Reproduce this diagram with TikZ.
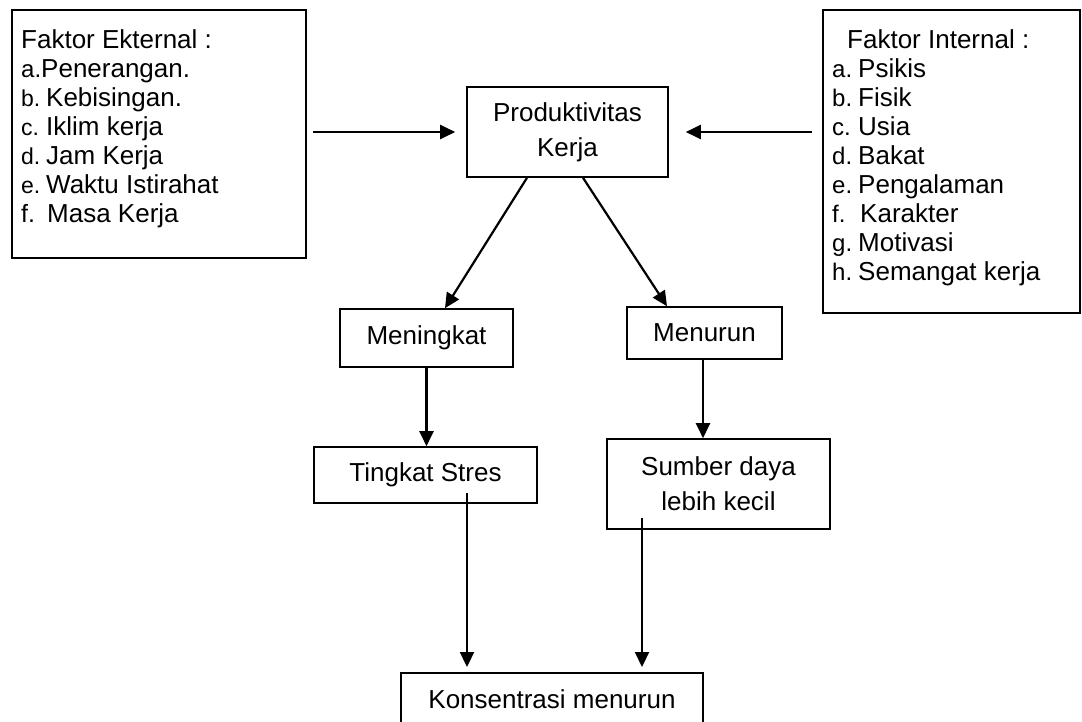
\documentclass[tikz,border=0pt]{standalone}
\usepackage{fontspec}
\setmainfont{Liberation Sans}
\usetikzlibrary{arrows.meta,calc}
\newcommand\itemlab[3][25pt]{\makebox[#1][l]{\fontsize{#2}{29}\selectfont #3}}
\begin{document}
\begin{tikzpicture}[x=1pt,y=-1pt,
  box/.style={draw, line width=1.6pt, inner sep=0pt, font=\fontsize{26}{35}\selectfont, align=center},
  txt/.style={anchor=base west, inner sep=0pt, font=\fontsize{26}{29}\selectfont},
  arr/.style={line width=2.2pt, -{Triangle[length=15pt,width=14pt]}}]
\useasboundingbox (0,0) rectangle (1082,721);
\clip (0,0) rectangle (1082,721);
% side boxes
\node[box, minimum width=294pt, minimum height=248pt] (ext) at (159,134) {};
\node[box, minimum width=257pt, minimum height=303pt] (int) at (951.5,161.5) {};
% external list
\node[txt] (e0) at (21,48) {Faktor Ekternal :};
\node[txt] (e1) at (21,77) {{\fontsize{24}{29}\selectfont a.}Penerangan.};
\node[txt] (e2) at (21,106) {\itemlab{23}{b.}Kebisingan.};
\node[txt] (e3) at (21,135) {\itemlab{23}{c.}Iklim kerja};
\node[txt] (e4) at (21,164) {\itemlab{23}{d.}Jam Kerja};
\node[txt] (e5) at (21,193) {\itemlab{23}{e.}Waktu Istirahat};
\node[txt] (e6) at (21,222) {\itemlab[26pt]{25}{f.}Masa Kerja};
% internal list
\node[txt] (i0) at (847,48) {Faktor Internal :};
\node[txt] (i1) at (832,77) {\itemlab[26pt]{24}{a.}Psikis};
\node[txt] (i2) at (832,106) {\itemlab[26pt]{24}{b.}Fisik};
\node[txt] (i3) at (832,135) {\itemlab[26pt]{24}{c.}Usia};
\node[txt] (i4) at (832,164) {\itemlab[26pt]{24}{d.}Bakat};
\node[txt] (i5) at (832,193) {\itemlab[26pt]{24}{e.}Pengalaman};
\node[txt] (i6) at (832,222) {\itemlab[28pt]{24}{f.}Karakter};
\node[txt] (i7) at (832,251) {\itemlab[26pt]{24}{g.}Motivasi};
\node[txt] (i8) at (832,280) {\itemlab[26pt]{24}{h.}Semangat kerja};
% flow boxes
\node[box, minimum width=201pt, minimum height=90pt] (prod) at (567.5,132) {Produktivitas\\Kerja};
\node[box, minimum width=173pt, minimum height=58pt] (ning) at (426.5,338) {Meningkat};
\node[box, minimum width=155pt, minimum height=52pt] (turun) at (704.5,333) {Menurun};
\node[box, minimum width=223pt, minimum height=56pt] (stres) at (425.5,475) {Tingkat Stres};
\node[box, minimum width=223pt, minimum height=90pt] (sumber) at (718.5,484) {Sumber daya\\lebih kecil};
\node[box, minimum width=302pt, minimum height=53pt, anchor=north] (kons) at (552,672) {Konsentrasi menurun};
% connector end points
\coordinate (ls) at (313,132);
\coordinate (rs) at (812,132);
\coordinate (pl) at ($(prod.south)+(-40.5,0)$);
\coordinate (pr) at ($(prod.south)+(15.5,0)$);
\coordinate (nl) at ($(ning.north)+(18.5,0)$);
\coordinate (tr) at ($(turun.north)+(-37.5,0)$);
\coordinate (td) at ($(turun.south)+(-1.5,0)$);
\coordinate (sd) at ($(stres.center)+(41.5,18)$);
\coordinate (bd) at ($(sumber.center)+(-76.5,34)$);
% connectors
\draw[arr, shorten >=11pt] (ls) -- (prod.west);
\draw[arr, shorten >=17pt] (rs) -- (prod.east);
\draw[arr] (pl) -- (nl);
\draw[arr] (pr) -- (tr);
\draw[arr] (ning.south) -- (ning.south |- stres.north);
\draw[arr] (td) -- (td |- sumber.north);
\draw[arr, shorten >=5pt] (sd) -- (sd |- kons.north);
\draw[arr, shorten >=5pt] (bd) -- (bd |- kons.north);
\end{tikzpicture}
\end{document}
